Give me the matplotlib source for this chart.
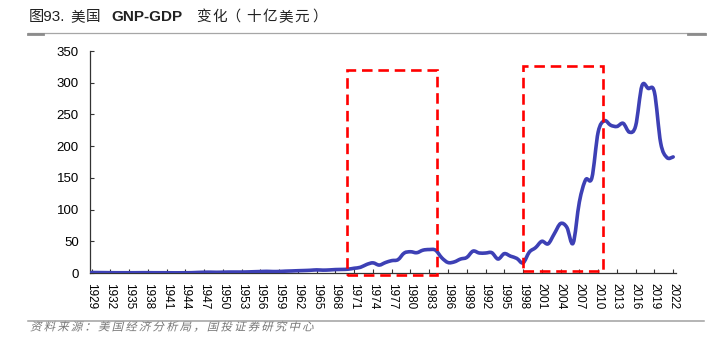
import matplotlib.pyplot as plt
from matplotlib.path import Path
from matplotlib.patches import PathPatch, Rectangle
from matplotlib.textpath import TextPath
from matplotlib.font_manager import FontProperties, findfont
from matplotlib.transforms import Affine2D, IdentityTransform
from matplotlib.lines import Line2D

# GNP minus GDP, billions of USD
years = list(range(1929, 2023))
gap = [0.8, 0.7, 0.6, 0.5, 0.4, 0.4, 0.4, 0.4, 0.5, 0.5,
       0.4, 0.4, 0.4, 0.3, 0.3, 0.4, 0.5, 0.9, 1.2, 1.3,
       1.1, 1.3, 1.5, 1.5, 1.5, 1.7, 2.0, 2.3, 2.6, 2.3,
       2.4, 2.9, 3.2, 3.6, 3.9, 4.3, 4.9, 4.5, 4.8, 5.4,
       5.6, 6.0, 7.5, 9.0, 13.5, 16.0, 12.5, 16.5, 19.5, 21.0,
       31.5, 33.5, 32.0, 36.0, 37.0, 36.0, 24.0, 16.5, 17.5, 22.0,
       24.5, 34.5, 31.5, 31.5, 32.0, 22.0, 30.5, 26.5, 23.0, 16.0,
       33.0, 40.0, 50.0, 46.0, 62.0, 78.0, 72.0, 47.0, 112.0, 147.0,
       150.0, 222.0, 240.0, 233.0, 231.0, 236.0, 222.0, 232.0, 295.0, 291.0,
       285.0, 205.0, 182.0, 183.0]

# highlighted periods (year from, year to, value from, value to)
boxes = [(1969.9, 1984.2, -3, 320), (1998.0, 2010.75, 3, 327)]

yticks = list(range(0, 351, 50))
xticks = list(range(1929, 2023, 3))

W, H = 721, 341
fig = plt.figure(figsize=(W / 100, H / 100), dpi=100)
ax = fig.add_axes([90 / W, 1 - 273 / H, (676 - 90) / W, (273 - 51) / H])


def smooth_path(xs, ys):
    # cubic Bezier through every point, Catmull-Rom style tangents
    verts = [(xs[0], ys[0])]
    codes = [Path.MOVETO]
    n = len(xs)
    for i in range(n - 1):
        x0, y0 = xs[max(i - 1, 0)], ys[max(i - 1, 0)]
        x1, y1 = xs[i], ys[i]
        x2, y2 = xs[i + 1], ys[i + 1]
        x3, y3 = xs[min(i + 2, n - 1)], ys[min(i + 2, n - 1)]
        verts += [(x1 + (x2 - x0) / 6, y1 + (y2 - y0) / 6),
                  (x2 - (x3 - x1) / 6, y2 - (y3 - y1) / 6),
                  (x2, y2)]
        codes += [Path.CURVE4] * 3
    return Path(verts, codes)


ax.add_patch(PathPatch(smooth_path(years, gap), fill=False, ec='#3d40b5',
                       lw=2.6, capstyle='round', joinstyle='round', zorder=3))

for x0, x1, y0, y1 in boxes:
    ax.add_patch(Rectangle((x0, y0), x1 - x0, y1 - y0, fill=False, ec='#ff0000',
                           lw=1.9, ls=(0, (4, 2.2)), clip_on=False, zorder=4))

# narrow face for the rotated year labels if there is one
try:
    findfont(FontProperties(family='Liberation Sans Narrow'), fallback_to_default=False)
    xfam, xsize = 'Liberation Sans Narrow', 9.5
except ValueError:
    xfam, xsize = 'Liberation Sans', 8.5

ax.set_xlim(1928.76, 2022.45)
ax.set_ylim(0, 350)
ax.set_yticks(yticks)
ax.set_xticks(xticks)
ax.set_xticklabels([str(y) for y in xticks], rotation=270, family=xfam, fontsize=xsize)
ax.set_yticklabels([str(v) for v in yticks], family='Liberation Sans', fontsize=9.5)
ax.tick_params(axis='both', direction='in', length=3, width=0.8, color='#333333')
ax.tick_params(axis='x', pad=7)
ax.tick_params(axis='y', pad=8)
for s in ('top', 'right'):
    ax.spines[s].set_visible(False)
for s in ('left', 'bottom'):
    ax.spines[s].set_color('#333333')
    ax.spines[s].set_linewidth(0.9)

# title, set piece by piece
cjk = ['Noto Sans CJK SC']
latin = ['Liberation Sans', 'Noto Sans CJK SC']
title_parts = [('图93.', 29.0, latin, 'normal'),
               ('美', 70.0, cjk, 'normal'), ('国', 86.0, cjk, 'normal'),
               ('GNP-GDP', 111.5, latin, 'bold'),
               ('变', 196.0, cjk, 'normal'), ('化（', 212.0, cjk, 'normal'),
               ('十', 246.0, cjk, 'normal'),
               ('亿', 262.5, cjk, 'normal'), ('美', 278.5, cjk, 'normal'),
               ('元', 294.5, cjk, 'normal'), ('）', 312.0, cjk, 'normal')]
for s, x, fam, wt in title_parts:
    size = 11 if fam is latin else 10.5
    fig.text(x / W, 1 - 21 / H, s, family=fam, fontweight=wt, fontsize=size,
             color='#222222', ha='left', va='baseline')

# rules under the title and above the source line
fig.add_artist(Line2D([28 / W, 705 / W], [1 - 33 / H] * 2, color='#a6a6a6', lw=0.9))
fig.add_artist(Line2D([28 / W, 43 / W], [1 - 33.8 / H] * 2, color='#8c8c8c', lw=2.0))
fig.add_artist(Line2D([688 / W, 705 / W], [1 - 33.8 / H] * 2, color='#8c8c8c', lw=2.0))
fig.add_artist(Line2D([28 / W, 704 / W], [1 - 320.5 / H] * 2, color='#a0a0a0', lw=1.1))

# slanted source note
source = '资料来源：美国经济分析局，国投证券研究中心'
prop = FontProperties(family='Noto Sans CJK SC')
for i, ch in enumerate(source):
    tp = TextPath((0, 0), ch, size=11.5, prop=prop)
    tr = Affine2D().skew_deg(14, 0).translate(30.0 + i * 13.6, H - 330.5)
    fig.add_artist(PathPatch(tr.transform_path(tp), fc='#777777', lw=0,
                             transform=IdentityTransform()))

fig.savefig('out.png', dpi=100)
